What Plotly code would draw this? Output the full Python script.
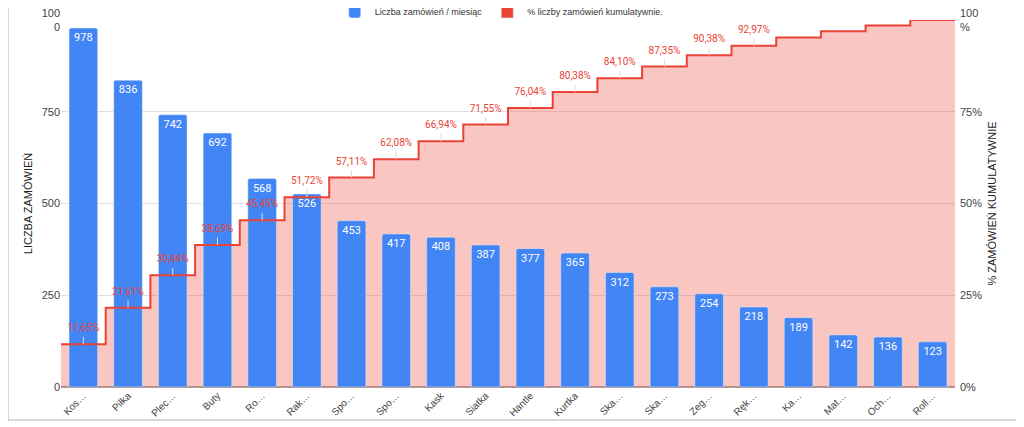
import numpy as np
import plotly.graph_objects as go

categories = ["Kos…", "Piłka", "Plec…", "Buty", "Ro…", "Rak…", "Spo…", "Spo…", "Kask", "Siatka",
              "Hantle", "Kurtka", "Ska…", "Ska…", "Zeg…", "Ręk…", "Ka…", "Mat…", "Och…", "Roll…"]
orders = [978, 836, 742, 692, 568, 526, 453, 417, 408, 387, 377, 365, 312, 273, 254, 218, 189, 142, 136, 123]
n_labeled = 16  # percent labels visible for the first 16 categories

left_ticks = [0, 250, 500, 750, 1000]
left_ticktext = ["0", "250", "500", "750", "100<br>0"]
right_ticks = [0, 25, 50, 75, 100]
right_ticktext = ["0%", "25%", "50%", "75%", "100<br>%"]

BLUE = "#4285F4"
RED = "#EA4335"
FILL = "rgba(234,67,53,0.30)"
AXIS_FONT = dict(family="Liberation Sans, Arial, sans-serif", size=11, color="#444444")

orders_arr = np.array(orders, dtype=float)
cum_pct = np.cumsum(orders_arr) / orders_arr.sum() * 100
pos = np.arange(len(categories))
edges = np.append(pos - 0.5, pos[-1] + 0.5)
step_y = np.append(cum_pct, cum_pct[-1])
pct_text = [f"{v:.2f}".replace(".", ",") + "%" for v in cum_pct[:n_labeled]]

fig = go.Figure()

# cumulative area (bottom layer)
fig.add_trace(go.Scatter(x=edges, y=step_y, mode="lines", line=dict(width=0, shape="hv"),
                         fill="tozeroy", fillcolor=FILL, showlegend=False, hoverinfo="skip",
                         yaxis="y"))
# bars
fig.add_trace(go.Bar(x=pos, y=orders, name="Liczba zamówień / miesiąc", marker=dict(color=BLUE, cornerradius=2),
                     width=0.64, text=orders, textposition="inside", insidetextanchor="end",
                     textangle=0, textfont=dict(family="Roboto, sans-serif", size=11, color="white"),
                     yaxis="y2"))
# step line
fig.add_trace(go.Scatter(x=edges, y=step_y, mode="lines", line=dict(color=RED, width=2, shape="hv"),
                         showlegend=False, yaxis="y3"))
# percent labels with small leader ticks
fig.add_trace(go.Scatter(x=pos[:n_labeled], y=cum_pct[:n_labeled], mode="markers+text", text=pct_text,
                         textposition="top center",
                         marker=dict(size=15, color="rgba(0,0,0,0)"),
                         error_y=dict(type="constant", symmetric=False, value=2.0, valueminus=0,
                                      color="#dcdcdc", thickness=1, width=0),
                         textfont=dict(family="Roboto, sans-serif", size=10, color=RED),
                         showlegend=False, hoverinfo="skip", yaxis="y3"))
# legend entry for cumulative series
fig.add_trace(go.Bar(x=[None], y=[None], name="% liczby zamówień kumulatywnie.", marker=dict(color=RED),
                     yaxis="y2"))

fig.update_layout(
    width=1016, height=419,
    margin=dict(l=53, r=69, t=12, b=40, autoexpand=False),
    paper_bgcolor="white", plot_bgcolor="white",
    barmode="overlay",
    font=AXIS_FONT,
    xaxis=dict(range=[edges[0], edges[-1]], tickvals=pos, ticktext=categories, tickangle=-45,
               showgrid=False, zeroline=False, showline=False, ticks="",
               tickfont=dict(size=10, color="#444444")),
    yaxis=dict(side="right", range=[0, 100], tickvals=right_ticks, ticktext=right_ticktext,
               showgrid=True, gridcolor="#e0e0e0", zeroline=True, zerolinecolor="#b0a0a0",
               title=dict(text="% ZAMÓWIEŃ KUMULATYWNIE", font=dict(size=11, color="#222222"), standoff=7),
               ticks="", ticklabelstandoff=4, ticklabeloverflow="allow"),
    yaxis2=dict(overlaying="y", side="left", range=[0, 1000], tickvals=left_ticks, ticktext=left_ticktext,
                showgrid=False, zeroline=False,
                title=dict(text="LICZBA ZAMÓWIEŃ", font=dict(size=11, color="#222222"), standoff=6),
                ticks="", ticklabeloverflow="allow"),
    yaxis3=dict(overlaying="y", side="right", range=[0, 100], visible=False),
    legend=dict(orientation="h", x=0.493, xanchor="center", y=1.022, yanchor="middle",
                font=dict(size=9, color="#333333"), itemwidth=30, traceorder="normal",
                bgcolor="rgba(0,0,0,0)"),
    shapes=[dict(type="rect", xref="paper", yref="paper", x0=-0.0593, x1=1.0693, y0=-0.09, y1=1.2,
                 line=dict(color="#cccccc", width=1.5), fillcolor="rgba(0,0,0,0)", layer="below")],
)

fig.write_html("out.html")
